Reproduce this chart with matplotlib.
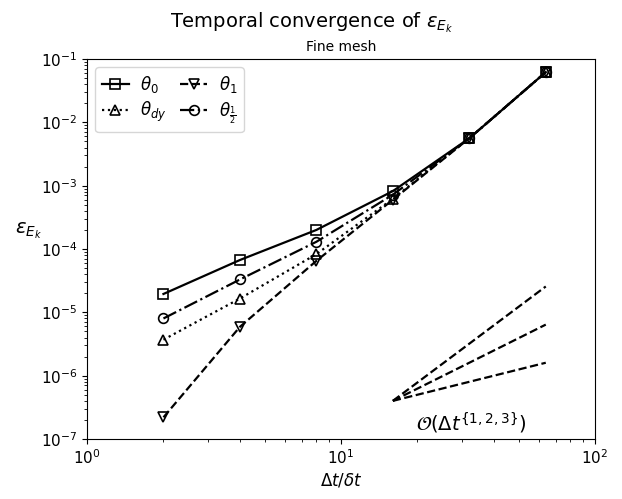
import matplotlib
matplotlib.use("Agg")
import matplotlib.pyplot as plt

# time step refinement ratios
dt_ratio = [2, 4, 8, 16, 32, 64]

# kinetic energy error for each scheme
err_theta0 = [1.95e-5, 6.7e-5, 2.0e-4, 8.2e-4, 5.6e-3, 6.2e-2]
err_theta_dy = [3.7e-6, 1.65e-5, 8.3e-5, 6.2e-4, 5.6e-3, 6.2e-2]
err_theta1 = [2.2e-7, 5.9e-6, 6.5e-5, 6.0e-4, 5.6e-3, 6.2e-2]
err_theta_half = [8.0e-6, 3.3e-5, 1.3e-4, 7.2e-4, 5.6e-3, 6.2e-2]

# slope guide lines (order 1, 2, 3)
ref_x = [16, 64]
ref_o1 = [4.0e-7, 1.6e-6]
ref_o2 = [4.0e-7, 6.4e-6]
ref_o3 = [4.0e-7, 2.56e-5]

fig = plt.figure(figsize=(6.22, 4.99), dpi=100)
ax = fig.add_axes([87 / 622, 1 - 439 / 499, 508 / 622, 380 / 499])

style = dict(color="k", lw=1.6, ms=7, mfc="none", mew=1.2)
ax.plot(dt_ratio, err_theta0, "-s", label=r"$\theta_0$", **style)
ax.plot(dt_ratio, err_theta_dy, ":^", label=r"$\theta_{dy}$", **style)
ax.plot(dt_ratio, err_theta1, "--v", label=r"$\theta_1$", **style)
ax.plot(dt_ratio, err_theta_half, "-.o", label=r"$\theta_{\frac{1}{2}}$", **style)

for ref in (ref_o1, ref_o2, ref_o3):
    ax.plot(ref_x, ref, "--", color="k", lw=1.6)

ax.text(32.6, 1.79e-7, r"$\mathcal{O}(\Delta t^{\{1,2,3\}})$", fontsize=14,
        ha="center", va="center")

ax.set_xscale("log")
ax.set_yscale("log")
ax.set_xlim(1, 100)
ax.set_ylim(1e-7, 1e-1)
ax.tick_params(labelsize=11)

ax.set_xlabel(r"$\Delta t/\delta t$", fontsize=12, labelpad=3)
ax.set_ylabel(r"$\varepsilon_{E_k}$", fontsize=14, rotation=0, labelpad=2)
ax.yaxis.set_label_coords(-0.115, 0.52)
ax.set_title("Fine mesh", fontsize=10)
fig.suptitle(r"Temporal convergence of $\varepsilon_{E_k}$", fontsize=14, y=0.98)

ax.legend(loc="upper left", ncol=2, fontsize=12, columnspacing=0.8,
          handlelength=1.6, handletextpad=0.7, labelspacing=0.3)

fig.savefig("out.png", dpi=100)
